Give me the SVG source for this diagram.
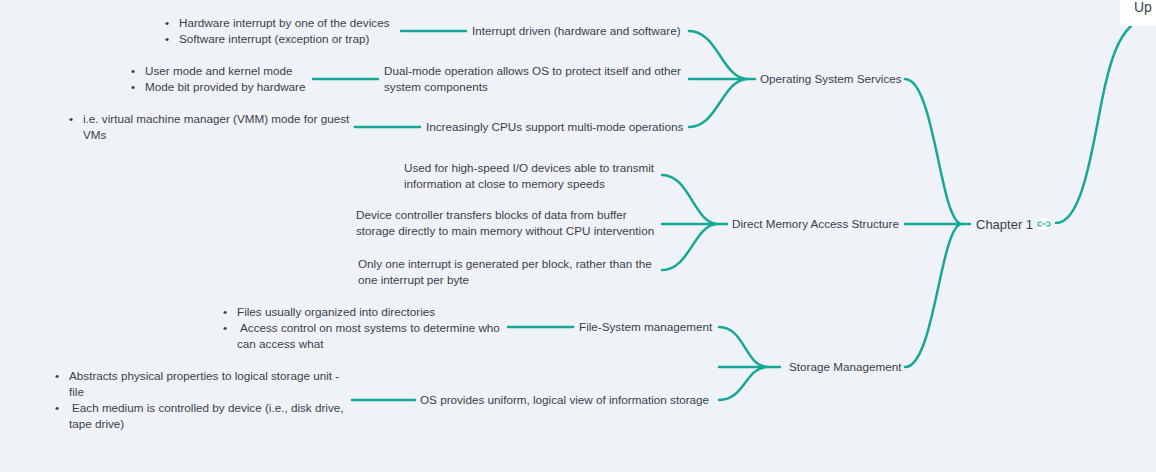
<svg xmlns="http://www.w3.org/2000/svg" width="1156" height="472" viewBox="0 0 1156 472">
<style>
text{font-family:"Liberation Sans",Arial,sans-serif;font-size:11.7px;fill:#3a3f4b}
.c{fill:none;stroke:#17a797;stroke-width:2.5;stroke-linecap:round}
</style>
<rect width="1156" height="472" fill="#eff3f7"/>
<g id="connectors">
<path class="c" d="M1056,223 C1082,223 1092,150 1102,100 C1110,60 1118,38 1131,26"/>
<path class="c" d="M905,79 C935,79 940,224 962,224 M905,367 C935,367 940,224 962,224 M905,224 L970,224"/>
<path class="c" d="M689,31 C718,31 722,79 748,79 M689,127 C718,127 722,79 748,79 M689,79 L755,79"/>
<path class="c" d="M662,175 C690,175 694,224 718,224 M662,270 C690,270 694,224 718,224 M662,224 L727,224"/>
<path class="c" d="M719,327 C745,327 745,367 768,367 M719,400 C745,400 745,367 768,367 M719,367 L780,367"/>
<path class="c" d="M401,31 L466,31 M313,79 L378,79 M355,127 L420,127 M508,327 L573,327 M352,400 L415,400"/>
</g>
<g id="up">
<rect x="1120" y="-10" width="60" height="36" rx="4" fill="#ffffff"/>
<text x="1134" y="12" style="font-size:14px">Up</text>
</g>
<g id="chapter1">
<text x="976" y="229" style="font-size:13px">Chapter 1</text>
<circle cx="1044" cy="224" r="6" fill="#ffffff"/>
<path d="M1042,222 h-2 a2,2 0 0 0 0,4 h2 M1046,222 h2 a2,2 0 0 1 0,4 h-2 M1042,224 h4" fill="none" stroke="#17a797" stroke-width="1.1"/>
</g>
<g id="oss"><text x="760" y="83">Operating System Services</text></g>
<g id="interrupt"><text x="472" y="35">Interrupt driven (hardware and software)</text></g>
<g id="interrupt-notes">
<text x="165" y="27">•</text><text x="179" y="27">Hardware interrupt by one of the devices</text>
<text x="165" y="43">•</text><text x="179" y="43">Software interrupt (exception or trap)</text>
</g>
<g id="dualmode"><text x="384" y="75">Dual-mode operation allows OS to protect itself and other</text><text x="384" y="91">system components</text></g>
<g id="dualmode-notes">
<text x="131" y="75">•</text><text x="145" y="75">User mode and kernel mode</text>
<text x="131" y="91">•</text><text x="145" y="91">Mode bit provided by hardware</text>
</g>
<g id="multimode"><text x="426" y="131">Increasingly CPUs support multi-mode operations</text></g>
<g id="multimode-notes">
<text x="69" y="123">•</text><text x="83" y="123">i.e. virtual machine manager (VMM) mode for guest</text>
<text x="83" y="139">VMs</text>
</g>
<g id="dma"><text x="732" y="228">Direct Memory Access Structure</text></g>
<g id="dma-1"><text x="404" y="172">Used for high-speed I/O devices able to transmit</text><text x="404" y="188">information at close to memory speeds</text></g>
<g id="dma-2"><text x="356" y="219">Device controller transfers blocks of data from buffer</text><text x="356" y="235">storage directly to main memory without CPU intervention</text></g>
<g id="dma-3"><text x="358" y="268">Only one interrupt is generated per block, rather than the</text><text x="358" y="284">one interrupt per byte</text></g>
<g id="storage"><text x="789" y="371">Storage Management</text></g>
<g id="fs"><text x="579" y="331">File-System management</text></g>
<g id="fs-notes">
<text x="223" y="316">•</text><text x="237" y="316">Files usually organized into directories</text>
<text x="223" y="332">•</text><text x="240" y="332">Access control on most systems to determine who</text>
<text x="237" y="348">can access what</text>
</g>
<g id="uniform"><text x="420" y="404">OS provides uniform, logical view of information storage</text></g>
<g id="uniform-notes">
<text x="55" y="380">•</text><text x="69" y="380">Abstracts physical properties to logical storage unit -</text>
<text x="69" y="396">file</text>
<text x="55" y="412">•</text><text x="72" y="412">Each medium is controlled by device (i.e., disk drive,</text>
<text x="69" y="428">tape drive)</text>
</g>
</svg>
